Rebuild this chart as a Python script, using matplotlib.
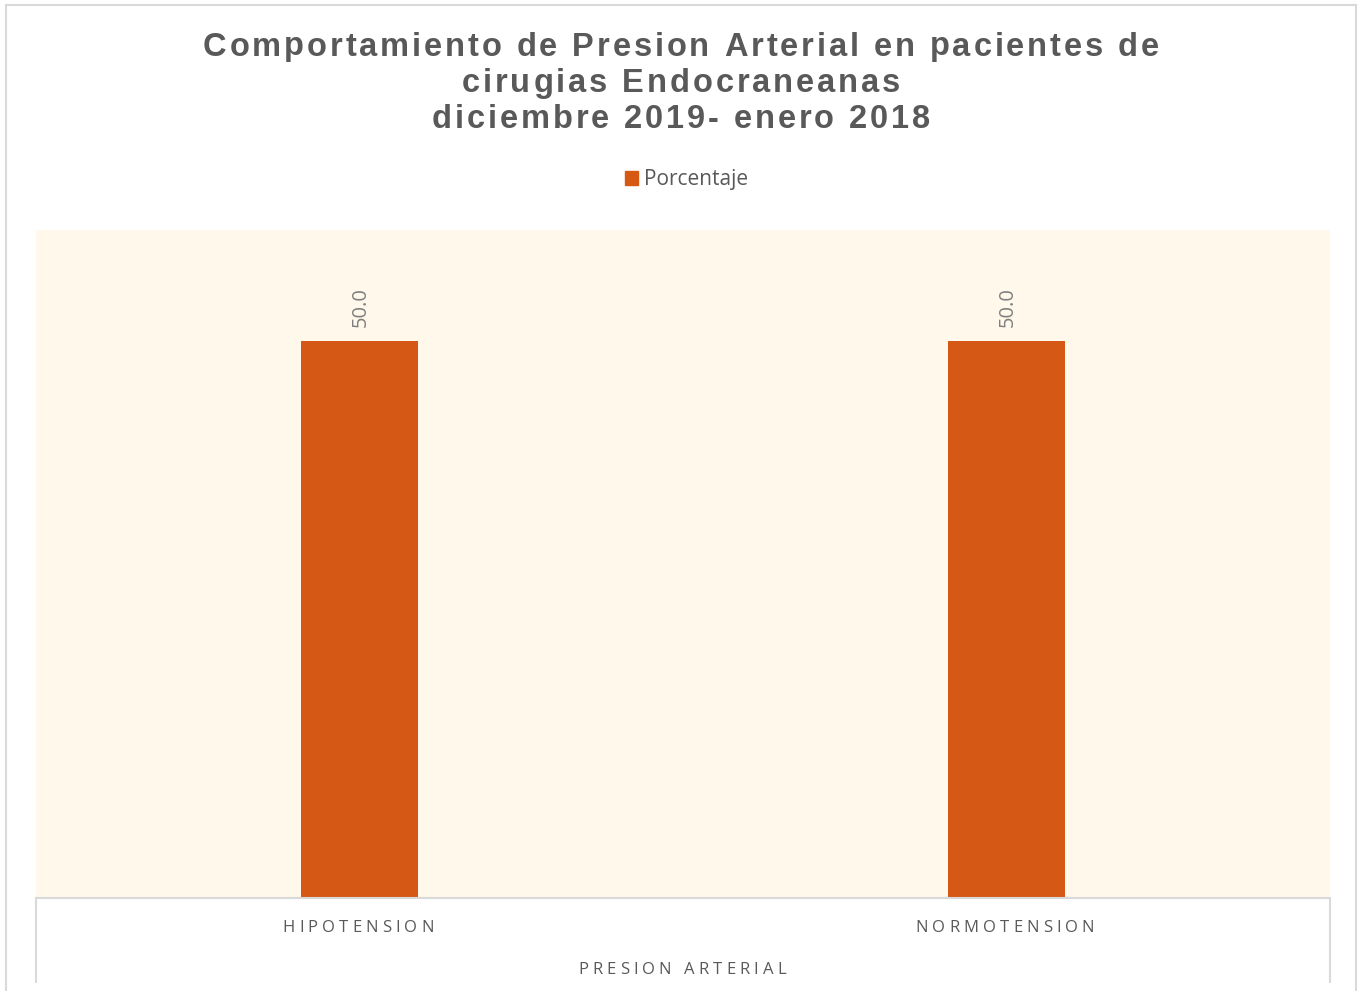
import matplotlib
matplotlib.use("Agg")
import matplotlib.pyplot as plt
from matplotlib.font_manager import FontProperties
from matplotlib.lines import Line2D

categories = ["HIPOTENSION", "NORMOTENSION"]
porcentaje = [50.0, 50.0]
title_lines = ["Comportamiento de Presion Arterial en pacientes de",
               "cirugias Endocraneanas",
               "diciembre 2019- enero 2018"]
series_name = "Porcentaje"
axis_title = "PRESION ARTERIAL"

W, H = 1361, 991
fig = plt.figure(figsize=(W / 100, H / 100), dpi=100)
renderer = fig.canvas.get_renderer()

TEXT_GREY = "#595959"
BAR_COLOR = "#D55815"
PLOT_BG = "#FFF8EB"
LINE_GREY = "#D9D9D9"


def spaced_text(x_px, y_px, s, spacing, prop, color, ha="center"):
    """Draw text with extra letter spacing (pixel coords, y from top)."""
    w_aa, _, _ = renderer.get_text_width_height_descent("aa", prop, ismath=False)
    widths = []
    for ch in s:
        if ch == " ":
            w, _, _ = renderer.get_text_width_height_descent("a a", prop, ismath=False)
            w -= w_aa
        else:
            w, _, _ = renderer.get_text_width_height_descent(ch, prop, ismath=False)
        widths.append(w)
    total = sum(widths) + spacing * (len(s) - 1)
    x = x_px - total / 2 if ha == "center" else x_px
    for ch, w in zip(s, widths):
        fig.text(x / W, 1 - y_px / H, ch, fontproperties=prop, color=color,
                 ha="left", va="center")
        x += w + spacing


# outer chart border
for xs, ys in [([6, 6], [5, 995]), ([6, 1356], [5, 5]), ([1356, 1356], [5, 995])]:
    fig.add_artist(Line2D([x / W for x in xs], [1 - y / H for y in ys],
                          color=LINE_GREY, lw=1.5))

# title
title_prop = FontProperties(family=["Liberation Sans", "DejaVu Sans"], weight="bold", size=23.5)
for i, line in enumerate(title_lines):
    spaced_text(681, 47 + i * 36.5, line, 2.9, title_prop, TEXT_GREY)

# plot area
ax = fig.add_axes([36 / W, 1 - 898 / H, 1294 / W, 668 / H])
ax.set_facecolor(PLOT_BG)
x = list(range(len(categories)))
bars = ax.bar(x, porcentaje, width=0.182, color=BAR_COLOR, label=series_name)
ax.set_xlim(-0.5, len(categories) - 0.5)
ax.set_ylim(0, 60)
ax.set_xticks([])
ax.set_yticks([])
for side in ["top", "left", "right"]:
    ax.spines[side].set_visible(False)
ax.spines["bottom"].set_color(LINE_GREY)
ax.spines["bottom"].set_linewidth(1.5)

# value labels
for xi, v in zip(x, porcentaje):
    ax.annotate(f"{v:.1f}", (xi, v), xytext=(1, 14), textcoords="offset pixels",
                rotation=90, ha="center", va="bottom", fontsize=14.5,
                family="Open Sans", color="#7F7F7F")

# category axis box
for xp in [36, 1330]:
    fig.add_artist(Line2D([xp / W, xp / W], [1 - 898 / H, 1 - 982 / H],
                          color=LINE_GREY, lw=1.5))

cat_prop = FontProperties(family="Open Sans", size=12)
for xi, cat in zip(x, categories):
    xpix = ax.transData.transform((xi, 0))[0]
    spaced_text(xpix - 1.5, 928, cat, 4.1, cat_prop, TEXT_GREY)
spaced_text(682, 970, axis_title, 4.1, cat_prop, TEXT_GREY)

# legend
fig.add_artist(plt.Rectangle((625 / W, 1 - 185 / H), 13 / W, 14 / H,
                             transform=fig.transFigure, color=BAR_COLOR))
fig.text(644 / W, 1 - 180 / H, series_name, family="Open Sans", fontsize=15,
         color=TEXT_GREY, ha="left", va="center")

fig.savefig("out.png", dpi=100)
